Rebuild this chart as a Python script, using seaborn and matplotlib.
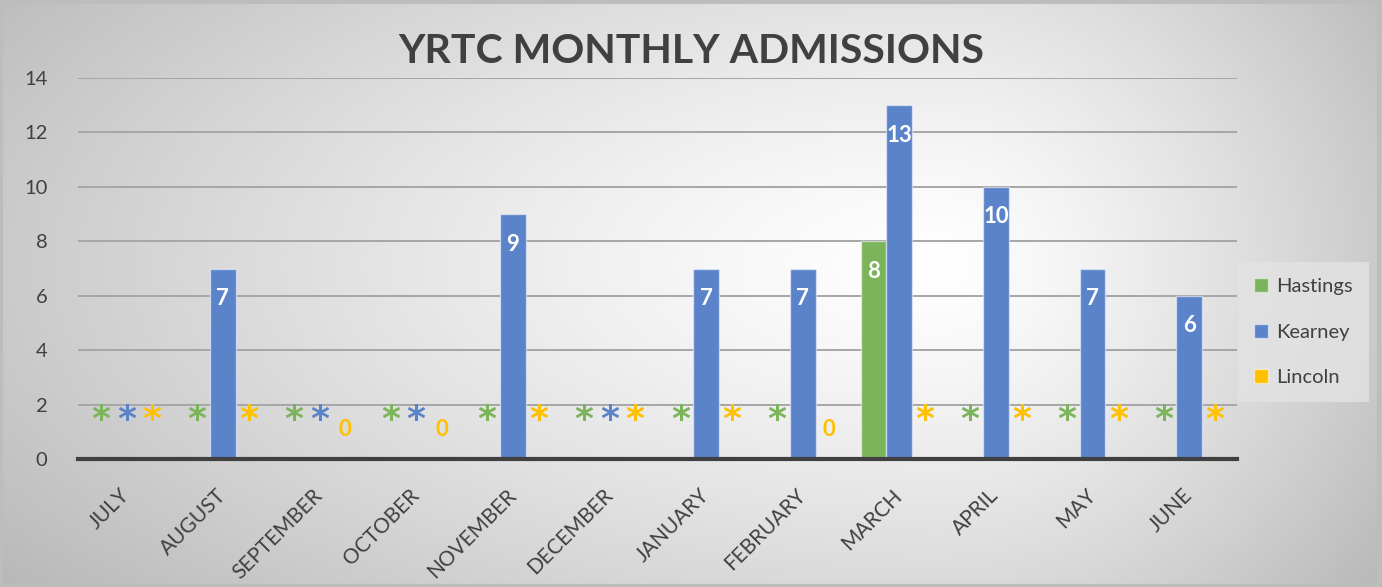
import numpy as np
import pandas as pd
import matplotlib
matplotlib.use("Agg")
import matplotlib.pyplot as plt
import seaborn as sns
from matplotlib.patches import Rectangle

months = ["JULY", "AUGUST", "SEPTEMBER", "OCTOBER", "NOVEMBER", "DECEMBER",
          "JANUARY", "FEBRUARY", "MARCH", "APRIL", "MAY", "JUNE"]
# None = suppressed count, shown as "*"
hastings = [None, None, None, None, None, None, None, None, 8, None, None, None]
kearney = [None, 7, None, None, 9, None, 7, 7, 13, 10, 7, 6]
lincoln = [None, None, 0, 0, None, None, None, 0, None, None, None, None]

sites = ["Hastings", "Kearney", "Lincoln"]
colors = {"Hastings": "#7CB45C", "Kearney": "#5B83CA", "Lincoln": "#FFC000"}

rows = []
for site, vals in zip(sites, [hastings, kearney, lincoln]):
    for m, v in zip(months, vals):
        rows.append({"month": m, "site": site, "admissions": np.nan if v is None else v})
df = pd.DataFrame(rows)

sns.set_theme(style="white")
plt.rcParams["font.family"] = ["Lato", "DejaVu Sans"]

fig = plt.figure(figsize=(13.82, 5.87), dpi=100)

# radial grey background
bg = fig.add_axes([0, 0, 1, 1], zorder=-10)
xx, yy = np.meshgrid(np.linspace(0, 1, 700), np.linspace(0, 1, 300))
cx, cy = 0.68, 0.45
sx = np.where(xx < cx, cx, 1 - cx) * 1.05
d = np.sqrt(((xx - cx) / sx) ** 2 + ((yy - cy) / 0.75) ** 2)
g = 1 - 0.22 * np.clip(d, 0, 1.2) ** 1.3
bg.imshow(np.dstack([g, g, g]), extent=[0, 1, 0, 1], aspect="auto", origin="upper")
bg.axis("off")
fig.patches.append(Rectangle((0.001, 0.002), 0.997, 0.995, transform=fig.transFigure,
                             fill=False, edgecolor="#BDBDBD", linewidth=3, zorder=-5))

ax = fig.add_axes([0.0564, 0.218, 0.839, 0.649])
ax.set_facecolor("none")
sns.barplot(data=df, x="month", y="admissions", hue="site", order=months,
            hue_order=sites, palette=colors, saturation=1, width=0.8, ax=ax,
            edgecolor=(1, 1, 1, 0.5), linewidth=1, zorder=3)

ax.set_ylim(0, 14)
ax.set_xlim(-0.5, len(months) - 0.5)
ax.set_yticks(range(0, 15, 2))
ax.yaxis.grid(True, color="#A6A6A6", linewidth=1.4, zorder=0)
ax.set_axisbelow(True)
for s in ["top", "right", "left"]:
    ax.spines[s].set_visible(False)
ax.spines["bottom"].set_color("#404040")
ax.spines["bottom"].set_linewidth(3)
ax.spines["bottom"].set_zorder(5)

ax.set_xticks(np.arange(len(months)))
ax.set_xticklabels(months, rotation=45, ha="right", va="center",
                   rotation_mode="anchor", fontsize=15, color="#404040")
ax.tick_params(axis="x", length=0, pad=24)
ax.set_xticks(np.arange(-0.5, len(months)), minor=True)
ax.tick_params(axis="x", which="minor", direction="out", length=7, width=3, color="#404040")
ax.tick_params(axis="y", length=0, labelsize=14.5, labelcolor="#404040", pad=22)
ax.set_xlabel("")
ax.set_ylabel("")

# data labels
bw = 0.8 / len(sites)
for j, (site, vals) in enumerate(zip(sites, [hastings, kearney, lincoln])):
    for i, v in enumerate(vals):
        x = i + (j - 1) * bw
        if v is None:
            ax.text(x, 1.42, "*", ha="center", va="center", fontsize=26,
                    fontweight="bold", color=colors[site], zorder=6,
                    family="DejaVu Sans")
        elif v == 0:
            ax.text(x, 1.07, "0", ha="center", va="center", fontsize=16,
                    fontweight="bold", color=colors[site], zorder=6)
        else:
            ax.text(x, v - 1.1, str(v), ha="center", va="center", fontsize=16,
                    fontweight="bold", color="white", zorder=6)

fig.text(0.5, 0.912, "YRTC MONTHLY ADMISSIONS", ha="center", va="center",
         fontsize=29.5, fontweight="bold", color="#404040")

handles, labels = ax.get_legend_handles_labels()
leg = ax.legend(handles, labels, loc="center left", bbox_to_anchor=(0.896, 0.434),
                bbox_transform=fig.transFigure, frameon=True, fontsize=14.5,
                handlelength=0.7, handleheight=0.7, labelspacing=1.4,
                handletextpad=0.4, borderpad=0.8, borderaxespad=0, fancybox=False)
leg.get_frame().set_facecolor("#E3E3E3")
leg.get_frame().set_edgecolor("none")
for t in leg.get_texts():
    t.set_color("#404040")

fig.savefig("out.png", dpi=100)
